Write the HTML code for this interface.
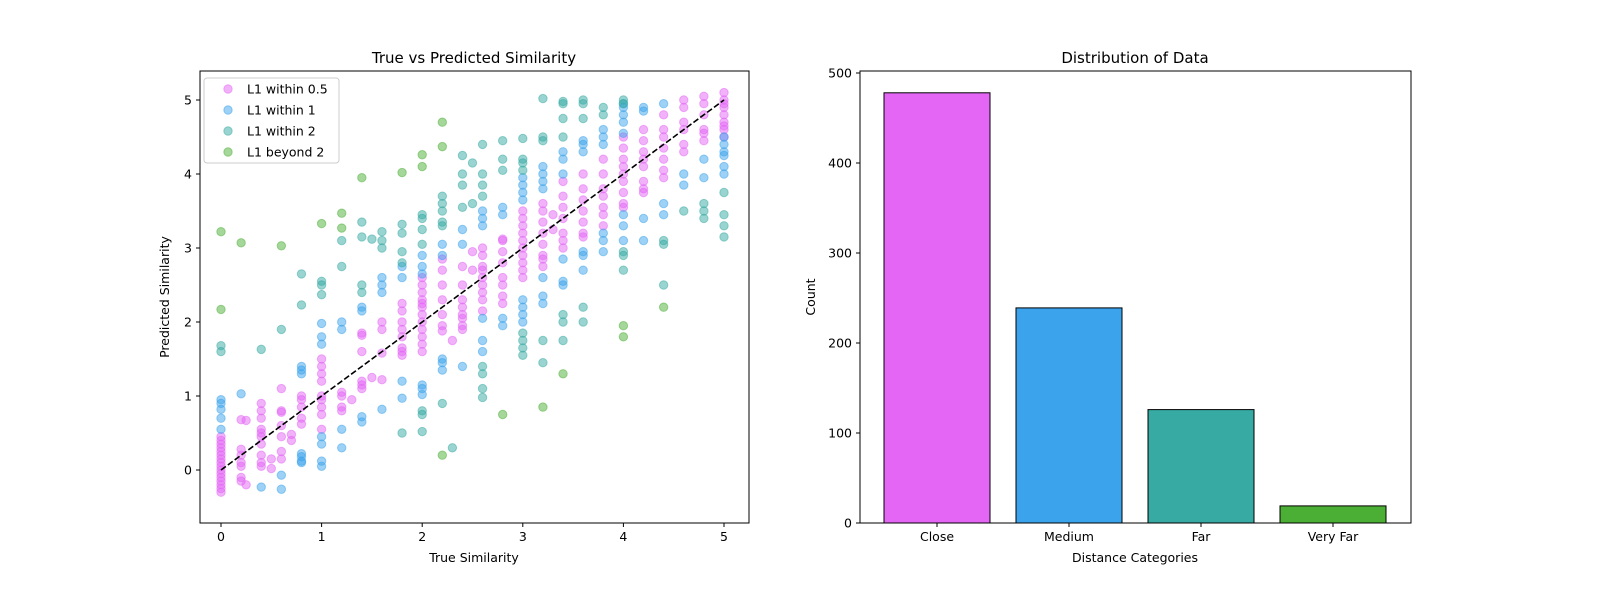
<!DOCTYPE html>
<html><head><meta charset="utf-8"><style>
html,body{margin:0;padding:0;background:#fff;width:1600px;height:600px;overflow:hidden;font-family:"Liberation Sans","DejaVu Sans",sans-serif}
svg{display:block}
svg text{font-family:"DejaVu Sans","Liberation Sans",sans-serif;fill:#000}
</style></head><body>
<svg id="c" width="1600" height="600" xmlns="http://www.w3.org/2000/svg"></svg>
<script>
const seriesNames=["L1 within 0.5","L1 within 1","L1 within 2","L1 beyond 2"];
const seriesColors=["#e366f5","#3ba3ec","#36aaa3","#4caf35"];
const close05=[[0,[-0.3,-0.25,-0.2,-0.15,-0.1,-0.05,0,0.05,0.1,0.15,0.2,0.25,0.3,0.35,0.4,0.45]],[0.2,[0.28,0.2,0.1,0.05,-0.1,-0.15,0.68]],[0.25,[0.67,-0.2]],[0.4,[0.9,0.8,0.7,0.55,0.45,0.35,0.2,0.1,0.05,0.5]],[0.5,[0.15,0.02]],[0.6,[1.1,0.8,0.6,0.45,0.25,0.15,0.78]],[0.7,[0.48,0.4]],[0.8,[1.0,0.95,0.85,0.7,0.62]],[1,[1.5,1.4,1.3,1.2,1.0,0.95,0.85,0.75,0.55]],[1.2,[1.05,0.85,0.8,1.0]],[1.3,[0.95]],[1.4,[1.85,1.6,1.2,1.15,1.1,1.82]],[1.5,[1.25]],[1.6,[2.0,1.9,1.58,1.22]],[1.8,[2.25,2.15,2.0,1.9,1.8,1.65,1.55,1.6]],[2,[2.5,2.4,2.3,2.2,2.1,2.0,1.9,1.8,1.7,1.6,2.6,2.25]],[2.2,[2.7,2.5,2.3,2.1,1.95,1.88,2.85]],[2.3,[1.75]],[2.4,[2.75,2.5,2.3,2.2,2.05,1.95,1.9,2.1]],[2.5,[2.7,2.95]],[2.6,[3.0,2.9,2.75,2.6,2.5,2.4,2.3,2.15,2.7]],[2.8,[3.1,2.95,2.8,2.6,2.5,2.35,2.25,3.12]],[3,[3.5,3.4,3.3,3.2,3.1,3.0,2.9,2.8,2.7,2.6]],[3.2,[3.6,3.5,3.35,3.2,3.05,2.9,2.85,2.75]],[3.3,[3.45,3.25]],[3.4,[3.9,3.7,3.55,3.4,3.2,3.1,3.0]],[3.6,[4.0,3.8,3.65,3.5,3.35,3.2,3.15]],[3.8,[4.2,4.0,3.8,3.7,3.55,3.45,3.3]],[4,[4.5,4.35,4.2,4.1,4.0,3.9,3.75,3.6,3.55]],[4.2,[4.6,4.45,4.3,4.2,4.1,3.9,3.8,3.75]],[4.4,[4.8,4.6,4.5,4.35,4.2,4.05,3.95]],[4.6,[5.0,4.9,4.7,4.6,4.4,4.3]],[4.8,[5.05,4.95,4.8,4.6,4.55,4.45]],[5,[5.1,5.0,4.95,4.9,4.8,4.7,4.65,4.6,4.5]]];
const within1=[[0,[0.95,0.9,0.82,0.7,0.55]],[0.2,[1.03]],[0.4,[-0.23]],[0.6,[-0.07,-0.26]],[0.8,[1.4,1.35,1.3,0.22,0.18,0.12,0.1]],[1,[1.98,1.8,1.7,0.45,0.35,0.12,0.05]],[1.2,[2.0,1.9,0.55,0.3]],[1.4,[2.2,2.15,0.65,0.72]],[1.6,[2.5,2.6,2.4,0.82]],[1.8,[2.6,2.75,1.2,0.97]],[2,[2.9,2.75,2.65,1.15,1.1,1.02]],[2.2,[3.05,2.9,1.5,1.45,1.35]],[2.4,[3.25,3.05,1.4]],[2.6,[3.5,3.4,3.3,1.75,1.6,2.05]],[2.8,[3.55,3.45,1.95,2.05]],[3,[3.95,3.85,3.75,3.65,2.3,2.2,2.1,2.0]],[3.2,[4.1,4.0,3.9,3.8,2.6,2.35,2.25]],[3.4,[4.3,4.2,4.0,2.5,2.55,2.85]],[3.6,[4.45,4.4,4.3,2.95,2.9,2.7]],[3.8,[4.6,4.5,4.4,3.2,3.1,2.95]],[4,[4.95,4.9,4.8,4.7,4.55,3.45,3.3,3.1]],[4.2,[4.9,4.85,3.4,3.1]],[4.4,[4.95,3.6,3.45]],[4.6,[4.0,3.85]],[4.8,[4.2,3.95]],[5,[4.5,4.4,4.3,4.25,4.1,4.0]]];
const within2=[[0,[1.68,1.6]],[0.4,[1.63]],[0.6,[1.9]],[0.8,[2.65,2.23]],[1,[2.55,2.5,2.37]],[1.2,[2.75,3.1]],[1.4,[3.35,3.15,2.5,2.4]],[1.5,[3.12]],[1.6,[3.22,3.1,3.0]],[1.8,[3.32,3.2,2.95,2.8,0.5]],[2,[3.45,3.4,3.25,3.05,0.8,0.75,0.52]],[2.2,[3.7,3.6,3.5,3.35,3.3,0.9]],[2.3,[0.3]],[2.4,[4.25,3.85,3.55,4.0]],[2.5,[4.15,3.6]],[2.6,[4.4,4.0,3.85,3.7,1.4,1.3,1.1,0.98]],[2.8,[4.45,4.2,4.05]],[3,[4.48,4.2,4.15,4.05,1.65,1.55,1.75,1.85]],[3.2,[5.02,4.5,4.45,1.75,1.45]],[3.4,[4.98,4.95,4.75,4.5,2.1,2.0,1.75]],[3.6,[5.0,4.95,4.75,2.0,2.2]],[3.8,[4.9,4.8]],[4,[5.0,4.95,2.95,2.9,2.7]],[4.4,[3.1,3.05,2.5]],[4.6,[3.5]],[4.8,[3.6,3.5,3.4]],[5,[3.75,3.45,3.3,3.15]]];
const beyond2=[[0,[3.22,2.17]],[0.2,[3.07]],[0.6,[3.03]],[1,[3.33]],[1.2,[3.47,3.27]],[1.4,[3.95]],[1.8,[4.02]],[2,[4.26,4.1]],[2.2,[4.7,4.37,0.2]],[2.8,[0.75]],[3.2,[0.85]],[3.4,[1.3]],[4,[1.95,1.8]],[4.4,[2.2]]];
const xTicks=[0,1,2,3,4,5];
const yTicks=[0,1,2,3,4,5];
const barCats=["Close","Medium","Far","Very Far"];
const barVals=[478,239,126,19];
const barColors=["#e366f5","#3ba3ec","#36aaa3","#4caf35"];
const countTicks=[0,100,200,300,400,500];

const NS="http://www.w3.org/2000/svg";
const svg=document.getElementById('c');
function el(t,a,p){const e=document.createElementNS(NS,t);for(const k in a)e.setAttribute(k,a[k]);(p||svg).appendChild(e);return e;}
function tx(s,x,y,a,p){const e=el('text',Object.assign({x:x,y:y,'font-size':12.5},a||{}),p);e.textContent=s;return e;}

const L={x0:200,x1:749,y0:71,y1:523};
const sx=v=>221+v*100.6, sy=v=>470-v*74;
const gL=el('g',{});


[close05,within1,within2,beyond2].forEach((s,i)=>{
  const g=el('g',{fill:seriesColors[i],'fill-opacity':0.5,stroke:seriesColors[i],'stroke-opacity':0.5,'stroke-width':1},gL);
  
  
  s.forEach(([x,ys])=>ys.forEach(y=>{
    const c=el('circle',{cx:sx(x),cy:sy(y),r:4.2},g);
    
    
  }));
});
const dl=el('line',{x1:sx(0),y1:sy(0),x2:sx(5),y2:sy(5),stroke:'#000','stroke-width':1.6,'stroke-dasharray':'6,2.5'},gL);


const fr=el('rect',{x:L.x0,y:L.y0,width:L.x1-L.x0,height:L.y1-L.y0,fill:'none',stroke:'#000','stroke-width':1},gL);


xTicks.forEach(t=>{el('line',{x1:sx(t),x2:sx(t),y1:L.y1,y2:L.y1+4,stroke:'#000'},gL);const e=tx(String(t),sx(t),L.y1+18,{'text-anchor':'middle'},gL);});
yTicks.forEach(t=>{el('line',{x1:L.x0-4,x2:L.x0,y1:sy(t),y2:sy(t),stroke:'#000'},gL);const e=tx(String(t),L.x0-8,sy(t)+4.5,{'text-anchor':'end'},gL);});
let e;
e=tx('True vs Predicted Similarity',474,63,{'text-anchor':'middle','font-size':15},gL);
e=tx('True Similarity',474,562,{'text-anchor':'middle'},gL);
e=tx('Predicted Similarity',169,297,{'text-anchor':'middle',transform:'rotate(-90 169 297)'},gL);
const lg=el('g',{},gL);


el('rect',{x:204,y:78,width:135,height:85,rx:3,fill:'#fff','fill-opacity':0.8,stroke:'#ccc'},lg);
seriesNames.forEach((n,i)=>{const y=89+i*21;el('circle',{cx:228,cy:y,r:4.2,fill:seriesColors[i],'fill-opacity':0.5,stroke:seriesColors[i],'stroke-opacity':0.5},lg);const t=tx(n,247,y+4.5,{},lg);});

const R={x0:860,x1:1411,y0:71,y1:523};
const by=v=>523-v*0.9;
const gR=el('g',{});


barCats.forEach((c,i)=>{const cx=937+i*132;const b=el('rect',{x:cx-53,y:by(barVals[i]),width:106,height:barVals[i]*0.9,fill:barColors[i],stroke:'#000','stroke-width':1},gR);


el('line',{x1:cx,x2:cx,y1:R.y1,y2:R.y1+4,stroke:'#000'},gR);
const t=tx(c,cx,R.y1+18,{'text-anchor':'middle'},gR);});
el('rect',{x:R.x0,y:R.y0,width:R.x1-R.x0,height:R.y1-R.y0,fill:'none',stroke:'#000'},gR);
countTicks.forEach(t=>{el('line',{x1:R.x0-4,x2:R.x0,y1:by(t),y2:by(t),stroke:'#000'},gR);const e2=tx(String(t),R.x0-8,by(t)+4.5,{'text-anchor':'end'},gR);});
e=tx('Distribution of Data',1135,63,{'text-anchor':'middle','font-size':15},gR);
e=tx('Distance Categories',1135,562,{'text-anchor':'middle'},gR);
e=tx('Count',815,297,{'text-anchor':'middle',transform:'rotate(-90 815 297)'},gR);
</script>
</body></html>
